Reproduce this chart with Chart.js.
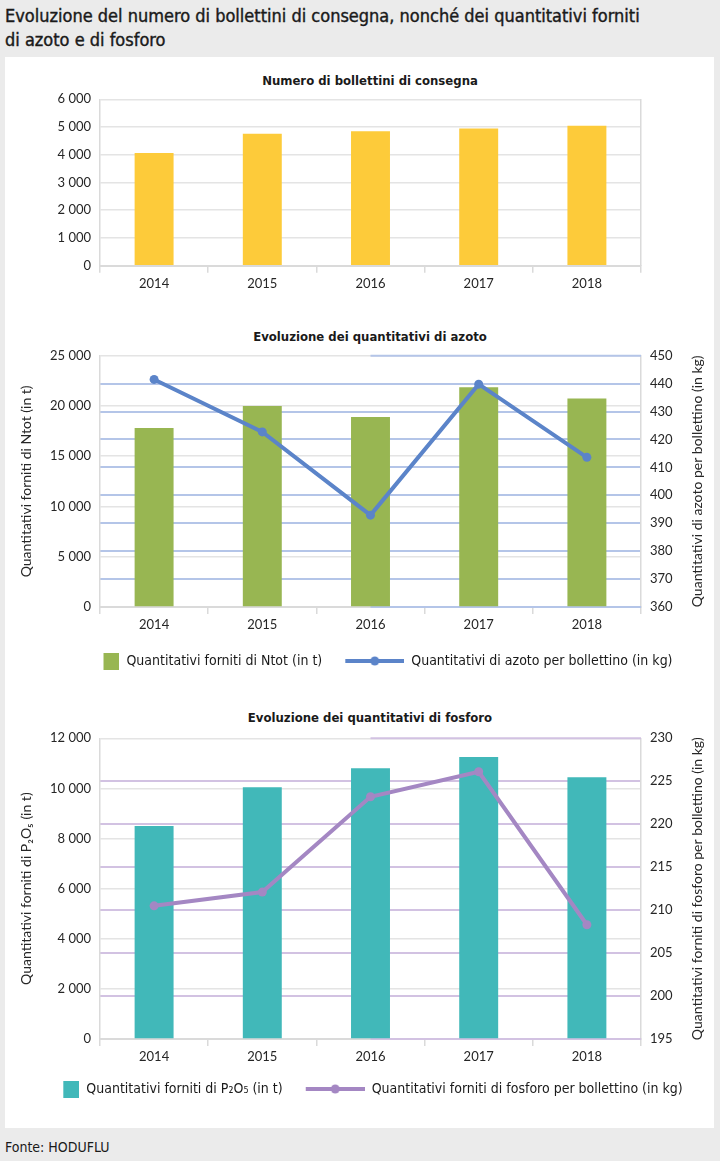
<!DOCTYPE html>
<html>
<head>
<meta charset="utf-8">
<script src="https://cdn.jsdelivr.net/npm/chart.js@4.4.1/dist/chart.umd.min.js"></script>
<style>
  body { margin: 0; width: 720px; height: 1161px; background: #ebebeb; position: relative; overflow: hidden;
         font-family: "Liberation Sans Narrow", "DejaVu Sans Condensed", sans-serif; color: #1a1a1a; }
  #title { position: absolute; left: 5px; top: 4px; font-size: 18px; line-height: 24px; -webkit-text-stroke: 0.4px #1a1a1a; }
  #panel { position: absolute; left: 5px; top: 57px; width: 709px; height: 1071px; background: #fff; }
  .ctitle { position: absolute; left: 170px; width: 400px; text-align: center; font-size: 13px; font-weight: bold; line-height: 18px; }
  canvas { position: absolute; }
  #source { position: absolute; left: 5px; top: 1138px; font-size: 14px; line-height: 18px; }
</style>
</head>
<body>
<div id="title">Evoluzione del numero di bollettini di consegna, nonché dei quantitativi forniti<br>di azoto e di fosforo</div>
<div id="panel"></div>
<div class="ctitle" style="top:72px">Numero di bollettini di consegna</div>
<div class="ctitle" style="top:328px">Evoluzione dei quantitativi di azoto</div>
<div class="ctitle" style="top:709px">Evoluzione dei quantitativi di fosforo</div>
<canvas id="c1" width="720" height="218" style="top:82px;left:0"></canvas>
<canvas id="c2" width="720" height="340" style="top:338px;left:0"></canvas>
<canvas id="c3" width="750" height="385" style="top:721px;left:-30px"></canvas>
<div id="source">Fonte: HODUFLU</div>
<script>
// data
const years = ["2014", "2015", "2016", "2017", "2018"];
const bollettini = [4060, 4760, 4850, 4950, 5050];
const azotoTot = [17800, 20000, 18900, 21850, 20750];
const azotoPerBollettino = [441.5, 422.7, 392.9, 439.8, 413.6];
const fosforoTot = [8500, 10050, 10800, 11250, 10450];
const fosforoPerBollettino = [210.5, 212.1, 223.2, 226.1, 208.3];

// axis ranges: [min, max, step]
const bollAxis = [0, 6000, 1000];
const azotoLeftAxis = [0, 25000, 5000];
const azotoRightAxis = [360, 450, 10];
const fosforoLeftAxis = [0, 12000, 2000];
const fosforoRightAxis = [195, 230, 5];

const TICK_FONT = { family: "Lato, 'Open Sans', sans-serif", size: 13 };
const AXIS_TITLE_FONT = { family: "Lato, 'Open Sans', sans-serif", size: 14 };
const LEGEND_FONT = { family: "'Liberation Sans Narrow', 'DejaVu Sans Condensed', sans-serif", size: 14 };
const GRID_GRAY = "#e4e4e4";
const BORDER_GRAY = "#dadada";

Chart.defaults.animation = false;
Chart.defaults.color = "#262626";

const fmt = (v) => String(v).replace(/\B(?=(\d{3})+(?!\d))/g, " ");

// legend symbols
function squareSymbol(color) {
  const c = document.createElement("canvas");
  c.width = 72; c.height = 17;
  const g = c.getContext("2d");
  g.fillStyle = color;
  g.fillRect(56, 0, 16, 17);
  return c;
}
function lineSymbol(color) {
  const c = document.createElement("canvas");
  c.width = 72; c.height = 10;
  const g = c.getContext("2d");
  g.strokeStyle = color; g.lineWidth = 4;
  g.beginPath(); g.moveTo(13, 5); g.lineTo(72, 5); g.stroke();
  g.fillStyle = color;
  g.beginPath(); g.arc(42.5, 5, 4.5, 0, Math.PI * 2); g.fill();
  return c;
}

// coloured grid lines at the top/bottom of the right axis only cover the right half,
// and the right axis title reads bottom-to-top
const extras = {
  id: "extras",
  beforeDatasetsDraw(chart, args, opts) {
    if (!opts.gridColor) return;
    const { ctx, chartArea: a } = chart;
    const y1 = chart.scales.y1;
    ctx.save();
    ctx.strokeStyle = opts.gridColor;
    ctx.lineWidth = 2;
    [y1.min, y1.max].forEach((v) => {
      const y = y1.getPixelForValue(v);
      ctx.beginPath();
      ctx.moveTo((a.left + a.right) / 2, y);
      ctx.lineTo(a.right, y);
      ctx.stroke();
    });
    ctx.restore();
  },
  afterDraw(chart, args, opts) {
    if (!opts.rightTitle) return;
    const { ctx, chartArea: a } = chart;
    ctx.save();
    ctx.translate(opts.titleX, (a.top + a.bottom) / 2);
    ctx.rotate(-Math.PI / 2);
    ctx.font = "14px Lato, 'Open Sans', sans-serif";
    ctx.fillStyle = "#262626";
    ctx.textAlign = "center";
    ctx.textBaseline = "middle";
    ctx.fillText(opts.rightTitle, 0, 0);
    ctx.restore();
  },
};

function xScale(height) {
  return {
    offset: true,
    grid: { offset: true, drawOnChartArea: false, tickLength: 7, color: BORDER_GRAY, lineWidth: 1.5 },
    border: { color: BORDER_GRAY, width: 2 },
    ticks: { font: TICK_FONT, padding: 3, color: "#262626" },
    afterFit: (s) => { s.height = height; },
  };
}

function leftScale(range, title, shift) {
  return {
    position: "left",
    min: range[0], max: range[1],
    ticks: { stepSize: range[2], callback: fmt, font: TICK_FONT, padding: 9 },
    grid: { color: GRID_GRAY, lineWidth: 1.5, drawTicks: false },
    border: { color: BORDER_GRAY, width: 1.5 },
    title: title ? { display: true, text: title, font: AXIS_TITLE_FONT, color: "#262626", padding: { top: 18 + shift, bottom: 0 } } : { display: false },
    afterFit: (s) => { s.width = 100 + shift; },
  };
}

function rightScale(range, gridColor) {
  return {
    position: "right",
    min: range[0], max: range[1],
    ticks: { stepSize: range[2], font: TICK_FONT, padding: 9 },
    grid: {
      drawTicks: false,
      lineWidth: 2,
      color: (ctx) => (ctx.tick && (ctx.tick.value === range[0] || ctx.tick.value === range[1])) ? "rgba(0,0,0,0)" : gridColor,
    },
    border: { color: BORDER_GRAY, width: 1.5 },
    afterFit: (s) => { s.width = 79; },
  };
}

// chart 1: number of delivery notes
new Chart(document.getElementById("c1"), {
  type: "bar",
  data: {
    labels: years,
    datasets: [{ label: "Numero di bollettini di consegna", data: bollettini, backgroundColor: "#fdcb3a",
                 barPercentage: 0.36, categoryPercentage: 1 }],
  },
  options: {
    responsive: false,
    layout: { padding: { top: 17.3, left: 0, right: 0, bottom: 0 } },
    plugins: { legend: { display: false }, tooltip: { enabled: false } },
    scales: {
      x: xScale(34.3),
      y: leftScale(bollAxis, null, 0),
      y1: {
        position: "right", min: 0, max: 6000,
        ticks: { display: false },
        grid: { drawOnChartArea: false, drawTicks: false },
        border: { color: BORDER_GRAY, width: 1.5 },
        afterFit: (s) => { s.width = 79; },
      },
    },
  },
});

function comboChart(id, cfg) {
  const sq = squareSymbol(cfg.barColor);
  const ln = lineSymbol(cfg.lineColor);
  return new Chart(document.getElementById(id), {
    type: "bar",
    data: {
      labels: years,
      datasets: [
        { type: "bar", label: cfg.barLabel, data: cfg.bars, backgroundColor: cfg.barColor,
          barPercentage: 0.36, categoryPercentage: 1, yAxisID: "y", order: 1 },
        { type: "line", label: cfg.lineLabel, data: cfg.line, borderColor: cfg.lineColor,
          backgroundColor: cfg.lineColor, borderWidth: 4, pointRadius: 4.5, pointBorderWidth: 0,
          pointBackgroundColor: cfg.lineColor, yAxisID: "y1", order: 0 },
      ],
    },
    options: {
      responsive: false,
      layout: { padding: { top: cfg.padTop, left: 0, right: 0, bottom: 0 } },
      plugins: {
        tooltip: { enabled: false },
        legend: {
          position: "bottom",
          labels: {
            usePointStyle: true,
            pointStyleWidth: 72,
            padding: 10,
            font: LEGEND_FONT,
            color: "#1a1a1a",
            generateLabels: (chart) => {
              const items = Chart.defaults.plugins.legend.labels.generateLabels(chart);
              items.sort((a, b) => a.datasetIndex - b.datasetIndex);
              items.forEach((it) => { it.pointStyle = it.datasetIndex === 0 ? sq : ln; it.lineWidth = 0; });
              return items;
            },
          },
        },
        extras: { gridColor: cfg.gridColor, rightTitle: cfg.rightTitle, titleX: 697 + cfg.shift },
      },
      scales: {
        x: xScale(cfg.xHeight),
        y: leftScale(cfg.leftAxis, cfg.leftTitle, cfg.shift),
        y1: rightScale(cfg.rightAxis, cfg.gridColor),
      },
    },
    plugins: [extras],
  });
}

// chart 2: nitrogen
comboChart("c2", {
  bars: azotoTot, line: azotoPerBollettino,
  barColor: "#98b652", lineColor: "#5b84c9", gridColor: "#b4c5e8",
  barLabel: "Quantitativi forniti di Ntot (in t)",
  lineLabel: "Quantitativi di azoto per bollettino (in kg)",
  leftTitle: "Quantitativi forniti di Ntot (in t)",
  rightTitle: "Quantitativi di azoto per bollettino (in kg)",
  leftAxis: azotoLeftAxis, rightAxis: azotoRightAxis,
  padTop: 17.7, xHeight: 37, shift: 0,
});

// chart 3: phosphorus (canvas reaches 30px further left so the legend sits as in the original)
comboChart("c3", {
  bars: fosforoTot, line: fosforoPerBollettino,
  barColor: "#41b8b9", lineColor: "#a487c3", gridColor: "#d2c2e2",
  barLabel: "Quantitativi forniti di P\u2082O\u2085 (in t)",
  lineLabel: "Quantitativi forniti di fosforo per bollettino (in kg)",
  leftTitle: "Quantitativi forniti di P\u2082O\u2085 (in t)",
  rightTitle: "Quantitativi forniti di fosforo per bollettino (in kg)",
  leftAxis: fosforoLeftAxis, rightAxis: fosforoRightAxis,
  padTop: 17.3, xHeight: 33, shift: 30,
});
</script>
</body>
</html>
